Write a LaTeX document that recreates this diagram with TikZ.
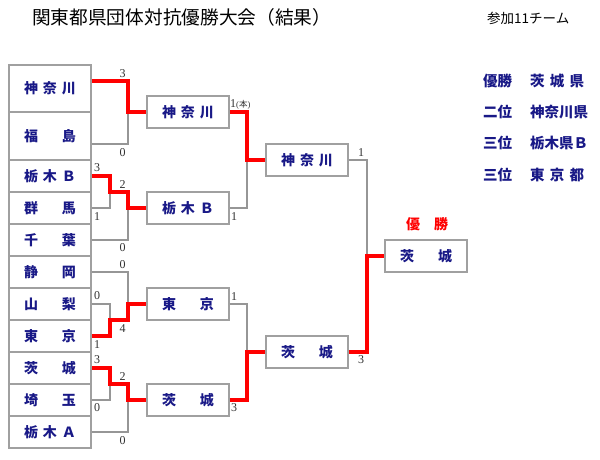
\documentclass[tikz,border=0pt]{standalone}
\usepackage{fontspec}
\setmainfont{Liberation Serif}
\newfontfamily\jp{Noto Sans CJK JP}
\definecolor{navy}{RGB}{25,25,135}
\definecolor{boxgray}{RGB}{160,160,160}
\definecolor{linegray}{RGB}{150,150,150}
\definecolor{scoregray}{RGB}{50,50,50}
\newcommand{\spreadname}[2][52pt]{\makebox[#1][s]{#2}}
\begin{document}
\begin{tikzpicture}[x=1pt,y=-1pt,
  team/.style={draw=boxgray, line width=1.6pt, minimum width=82pt, minimum height=32pt, inner sep=0pt,
    font=\jp\bfseries\fontsize{14}{14}\selectfont, text=navy},
  score/.style={font=\fontsize{12}{12}\selectfont, text=scoregray, inner sep=0pt},
  lose/.style={draw=linegray, line width=1.6pt},
  win/.style={draw=red, line width=3.5pt},
  legend/.style={font=\jp\bfseries\fontsize{14.5}{14.5}\selectfont, text=navy, inner sep=0pt, anchor=west}
]
\fill[white] (0,0) rectangle (600,460);
\useasboundingbox (0,0) rectangle (600,460);

% title
\node[anchor=west, inner sep=0pt, font=\jp\fontsize{18.7}{18.7}\selectfont] (title) at (32,17) {関東都県団体対抗優勝大会（結果）};
\node[anchor=west, inner sep=0pt, font=\jp\fontsize{13.5}{13.5}\selectfont] (count) at (487,18) {参加11チーム};

% first column
\node[team, minimum height=47pt] (L1) at (50,88.5) {\spreadname{神\hfill 奈\hfill 川}};
\node[team, minimum height=48pt] (L2) at (50,136) {\spreadname{福\hfill 島}};
\node[team] (L3) at (50,176) {\spreadname{栃\hfill 木\hfill Ｂ}};
\node[team] (L4) at (50,208) {\spreadname{群\hfill 馬}};
\node[team] (L5) at (50,240) {\spreadname{千\hfill 葉}};
\node[team] (L6) at (50,272) {\spreadname{静\hfill 岡}};
\node[team] (L7) at (50,304) {\spreadname{山\hfill 梨}};
\node[team] (L8) at (50,336) {\spreadname{東\hfill 京}};
\node[team] (L9) at (50,368) {\spreadname{茨\hfill 城}};
\node[team] (L10) at (50,400) {\spreadname{埼\hfill 玉}};
\node[team] (L11) at (50,432) {\spreadname{栃\hfill 木\hfill Ａ}};

% second column
\node[team] (K2) at (188,112) {\spreadname{神\hfill 奈\hfill 川}};
\node[team] (K3) at (188,208) {\spreadname{栃\hfill 木\hfill Ｂ}};
\node[team] (K4) at (188,304) {\spreadname{東\hfill 京}};
\node[team] (K5) at (188,400) {\spreadname{茨\hfill 城}};

% third column
\node[team] (S1) at (307,160) {\spreadname{神\hfill 奈\hfill 川}};
\node[team] (S2) at (307,352) {\spreadname{茨\hfill 城}};

% final
\node[team] (F) at (426,256) {\spreadname{茨\hfill 城}};
\node[inner sep=0pt, font=\jp\bfseries\fontsize{14}{14}\selectfont, text=red] (champ) at (427,224) {\spreadname[42pt]{優\hfill 勝}};

% junctions
\coordinate (j1) at (128,112);
\coordinate (j2) at (110,192);
\coordinate (j3) at (128,192);
\coordinate (j4) at (110,320);
\coordinate (j5) at (128,320);
\coordinate (j6) at (110,384);
\coordinate (j7) at (128,384);
\coordinate (j8) at (247,160);
\coordinate (j9) at (247,352);
\coordinate (j10) at (367,256);

% losing lines
\draw[lose] ([yshift=-8pt]L2.east) -| (j1);
\draw[lose] (L4.east) -| (j2);
\draw[lose] (L5.east) -| (j3);
\draw[lose] (L6.east) -| (j5);
\draw[lose] (L7.east) -| (j4);
\draw[lose] (L10.east) -| (j6);
\draw[lose] (L11.east) -| (j7);
\draw[lose] (K3.east) -| (j8);
\draw[lose] (K4.east) -| (j9);
\draw[lose] (S1.east) -| (j10);

% winning lines
\draw[win] ([yshift=7.5pt]L1.east) -| (j1) -- (K2.west);
\draw[win] (L3.east) -| (j2) -- (j3) |- (K3.west);
\draw[win] (L8.east) -| (j4) -- (j5) |- (K4.west);
\draw[win] (L9.east) -| (j6) -- (j7) |- (K5.west);
\draw[win] (K2.east) -| (j8) -- (S1.west);
\draw[win] (K5.east) -| (j9) -- (S2.west);
\draw[win] (S2.east) -| (j10) -- (F.west);

% scores
\node[score] (s1) at (122.5,74) {3};
\node[score] (s2) at (122.5,153) {0};
\node[score] (s3) at (97,168) {3};
\node[score] (s4) at (97,217) {1};
\node[score] (s5) at (122.5,185) {2};
\node[score] (s6) at (122.5,248) {0};
\node[score] (s7) at (122.5,265) {0};
\node[score] (s8) at (97,296) {0};
\node[score] (s9) at (122.5,329) {4};
\node[score] (s10) at (97,345) {1};
\node[score] (s11) at (97,360) {3};
\node[score] (s12) at (122.5,377) {2};
\node[score] (s13) at (97,408) {0};
\node[score] (s14) at (122.5,441) {0};
\node[score, anchor=west] (s15) at (230,104) {1{\fontsize{8.5}{8.5}\selectfont ({\jp 本})}};
\node[score] (s16) at (234,217) {1};
\node[score] (s17) at (234,297) {1};
\node[score] (s18) at (234,408) {3};
\node[score] (s19) at (361,153) {1};
\node[score] (s20) at (361,360) {3};

% legend
\node[legend] (r1a) at (483,81) {優勝};
\node[legend] (r1b) at (530,81) {\spreadname[54pt]{茨\hfill 城\hfill 県}};
\node[legend] (r2a) at (483,112) {二位};
\node[legend] (r2b) at (530,112) {神奈川県};
\node[legend] (r3a) at (483,143) {三位};
\node[legend] (r3b) at (530,143) {栃木県Ｂ};
\node[legend] (r4a) at (483,175) {三位};
\node[legend] (r4b) at (530,175) {\spreadname[54pt]{東\hfill 京\hfill 都}};
\end{tikzpicture}
\end{document}
